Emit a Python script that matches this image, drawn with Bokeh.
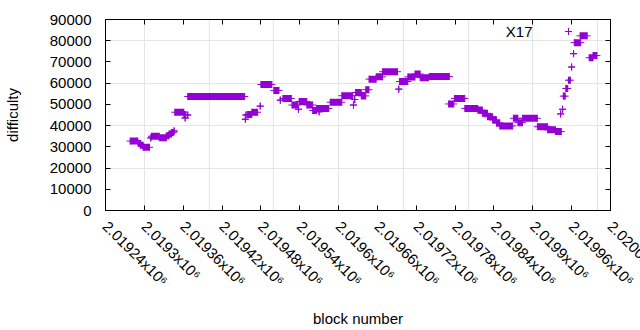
import math
from bokeh.plotting import figure
from bokeh.models import (ColumnDataSource, FixedTicker, LinearAxis, Range1d,
                          Label, Legend, LegendItem)
from bokeh.embed import file_html
from bokeh.resources import INLINE

# ---- data: runs of consecutive blocks sharing one difficulty ----
run_start = [2019278, 2019291, 2019294, 2019298, 2019310, 2019311, 2019323, 2019334,
             2019338, 2019342, 2019346, 2019347, 2019361, 2019363, 2019367, 2019367,
             2019456, 2019457, 2019459, 2019466, 2019479, 2019480, 2019500, 2019510,
             2019514, 2019528, 2019538, 2019539, 2019551, 2019560, 2019566, 2019570,
             2019587, 2019605, 2019623, 2019625, 2019626, 2019635, 2019642, 2019647,
             2019658, 2019668, 2019693, 2019694, 2019707, 2019718, 2019726, 2019740,
             2019770, 2019779, 2019795, 2019815, 2019822, 2019830, 2019838, 2019844,
             2019849, 2019870, 2019877, 2019884, 2019907, 2019923, 2019935, 2019943,
             2019946, 2019947, 2019951, 2019955, 2019960, 2019963, 2019964, 2019973,
             2019987, 2019993]
run_end = [2019290, 2019294, 2019298, 2019308, 2019310, 2019323, 2019334, 2019338,
           2019342, 2019345, 2019346, 2019361, 2019364, 2019363, 2019367, 2019455,
           2019456, 2019457, 2019466, 2019475, 2019479, 2019497, 2019508, 2019510,
           2019527, 2019537, 2019538, 2019551, 2019560, 2019566, 2019585, 2019570,
           2019605, 2019622, 2019623, 2019625, 2019635, 2019642, 2019647, 2019658,
           2019668, 2019691, 2019693, 2019707, 2019718, 2019726, 2019739, 2019771,
           2019778, 2019795, 2019815, 2019822, 2019830, 2019838, 2019844, 2019849,
           2019869, 2019877, 2019884, 2019907, 2019923, 2019935, 2019944, 2019943,
           2019946, 2019950, 2019954, 2019958, 2019960, 2019963, 2019974, 2019984,
           2019993, 2019999]
run_value = [32700, 31600, 30800, 29800, 34200, 35000, 34300, 35200,
             36000, 36800, 37500, 46300, 45200, 43600, 45000, 53700,
             43000, 45000, 45200, 46300, 49200, 59400, 56600, 52000,
             52800, 49700, 47700, 51400, 49700, 47100, 48100, 46500,
             51000, 54100, 49700, 52300, 55600, 54000, 56900, 61900,
             63000, 65400, 57200, 60800, 62950, 64300, 62600, 63150,
             50200, 52800, 48100, 47300, 45800, 44200, 42650, 41250,
             39850, 43450, 41400, 43450, 39500, 38000, 37200, 45500,
             47700, 53900, 57500, 61400, 67600, 73900, 79100, 82300,
             72000, 73000]

series_name = "X17"
x_ticks = [2019240, 2019300, 2019360, 2019420, 2019480, 2019540, 2019600,
           2019660, 2019720, 2019780, 2019840, 2019900, 2019960, 2020020]
x_tick_labels = ["2.01924x10⁶", "2.0193x10⁶", "2.01936x10⁶", "2.01942x10⁶",
                 "2.01948x10⁶", "2.01954x10⁶", "2.0196x10⁶", "2.01966x10⁶",
                 "2.01972x10⁶", "2.01978x10⁶", "2.01984x10⁶", "2.0199x10⁶",
                 "2.01996x10⁶", "2.02002x10⁶"]
y_ticks = [0, 10000, 20000, 30000, 40000, 50000, 60000, 70000, 80000, 90000]
x_label = "block number"
y_label = "difficulty"

PURPLE = "#9400d3"
FONT = "Liberation Sans"
FS = "15px"

p = figure(width=640, height=330, output_backend="svg", toolbar_location=None,
           x_range=Range1d(x_ticks[0], x_ticks[-1]), y_range=Range1d(y_ticks[0], y_ticks[-1]),
           x_axis_location=None, y_axis_location=None,
           min_border_left=104, min_border_right=30, min_border_top=19, min_border_bottom=119)
p.outline_line_color = "black"
p.outline_line_width = 1
p.background_fill_color = "white"
p.border_fill_color = "white"


def style_axis(ax, show_labels):
    ax.major_tick_in = 5
    ax.major_tick_out = 0
    ax.minor_tick_in = 0
    ax.minor_tick_out = 0
    ax.axis_line_color = "black"
    ax.major_tick_line_color = "black"
    ax.major_label_text_font = FONT
    ax.major_label_text_font_size = FS if show_labels else "0px"
    ax.major_label_text_color = "black"
    ax.axis_label_text_font = FONT
    ax.axis_label_text_font_size = FS
    ax.axis_label_text_font_style = "normal"
    ax.axis_label_text_color = "black"


# Bokeh nudges only the first and the last listed label back inside the canvas;
# listing the right-edge tick before its neighbour lets it run off the edge
# (cut off, as in the original) instead of being pushed onto that neighbour.
tick_order = x_ticks[:-2] + [x_ticks[-1], x_ticks[-2]]
xb = LinearAxis(ticker=FixedTicker(ticks=tick_order),
                major_label_overrides={t: s for t, s in zip(x_ticks, x_tick_labels)},
                axis_label=x_label)
style_axis(xb, True)
xb.major_label_orientation = -math.pi / 4
xb.major_label_standoff = 13
xb.axis_label_standoff = 12
p.add_layout(xb, "below")

yl = LinearAxis(ticker=FixedTicker(ticks=y_ticks), axis_label=y_label)
style_axis(yl, True)
yl.major_label_standoff = 14
yl.axis_label_standoff = 26
p.add_layout(yl, "left")

xa = LinearAxis(ticker=FixedTicker(ticks=x_ticks),
                major_label_overrides={t: "" for t in x_ticks})
style_axis(xa, False)
xa.major_label_standoff = 0
p.add_layout(xa, "above")

yr = LinearAxis(ticker=FixedTicker(ticks=y_ticks),
                major_label_overrides={t: "" for t in y_ticks})
style_axis(yr, False)
yr.major_label_standoff = 0
p.add_layout(yr, "right")

# dense runs of "+" markers merge into solid bars
rect_src = ColumnDataSource(dict(
    x=[(s + e) / 2 for s, e in zip(run_start, run_end)],
    w=[e - s for s, e in zip(run_start, run_end)],
    y=run_value))
p.rect(x="x", y="y", width="w", height=7, height_units="screen", source=rect_src,
       fill_color=PURPLE, line_color=None)

pt_src = ColumnDataSource(dict(x=run_start + run_end, y=run_value + run_value))
pts = p.scatter(x="x", y="y", source=pt_src, marker="cross", size=7,
                line_color=PURPLE, line_width=1)

# gnuplot-style key: title text followed by the sample marker
p.add_layout(Label(x=427, y=179, x_units="screen", y_units="screen", text=series_name,
                   text_align="right", text_baseline="middle", text_font=FONT,
                   text_font_size=FS, text_color="black"))
legend = Legend(items=[LegendItem(label=" ", renderers=[pts])], location=(454, 170),
                glyph_width=18, glyph_height=18, label_width=0, label_height=18,
                label_standoff=0, padding=0, spacing=0, margin=0,
                border_line_color=None, background_fill_alpha=0,
                label_text_font_size="1px")
p.add_layout(legend, "center")

open("out.html", "w").write(file_html(p, INLINE))
